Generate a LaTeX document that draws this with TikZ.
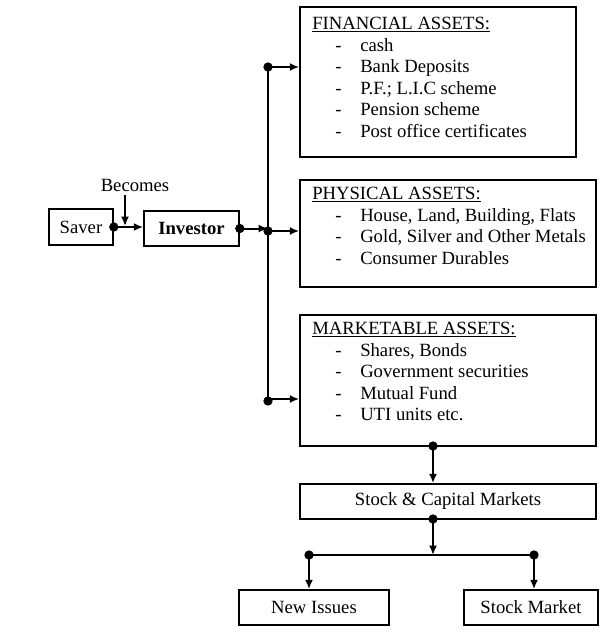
\documentclass[tikz,border=0pt]{standalone}
\usepackage{fontspec}
\setmainfont{Liberation Serif}
\usetikzlibrary{arrows.meta,calc}
\begin{document}
\begin{tikzpicture}[x=0.75pt,y=-0.75pt,
  box/.style={draw,line width=1.2pt,inner sep=0pt,font=\fontsize{14}{16}\selectfont},
  txt/.style={inner sep=0pt,anchor=base west,font=\fontsize{14}{16}\selectfont},
  conn/.style={line width=1.5pt,-{Latex[length=7pt,width=6pt]}},
  bar/.style={line width=1.5pt},
  dotf/.style={circle,fill,inner sep=0pt,minimum size=7pt}]
\useasboundingbox (0,0) rectangle (615,640);
% boxes
\node[box,minimum width=48pt,minimum height=27pt] (saver) at (81,227) {Saver};
\node[box,minimum width=71.25pt,minimum height=26.25pt,font=\fontsize{14}{16}\selectfont\bfseries] (inv) at (191.5,228.5) {Investor};
\node[txt,anchor=base] (becomes) at (135,191) {Becomes};
\node[box,minimum width=207pt,minimum height=112.5pt] (fin) at (438,82) {};
\node[box,minimum width=222pt,minimum height=80.25pt] (phy) at (448,233.5) {};
\node[box,minimum width=222pt,minimum height=98.25pt] (mkt) at (448,380.5) {};
\node[box,minimum width=222pt,minimum height=26.25pt] (sc) at (448,501.5) {Stock \& Capital Markets};
\node[box,minimum width=112.5pt,minimum height=26.25pt] (ni) at (314,607.5) {New Issues};
\node[box,minimum width=100.5pt,minimum height=26.25pt] (sm) at (531,607.5) {Stock Market};
% financial text
\node[txt] (fh) at (312,29.5) {\underline{FINANCIAL ASSETS:}};
\node[txt] (fd1) at (335,51) {-};   \node[txt] (f1) at (360,51) {cash};
\node[txt] (fd2) at (335,72.5) {-}; \node[txt] (f2) at (360,72.5) {Bank Deposits};
\node[txt] (fd3) at (335,94) {-};   \node[txt] (f3) at (360,94) {P.F.; L.I.C scheme};
\node[txt] (fd4) at (335,115.5) {-};\node[txt] (f4) at (360,115.5) {Pension scheme};
\node[txt] (fd5) at (335,137) {-};  \node[txt] (f5) at (360,137) {Post office certificates};
% physical text
\node[txt] (ph) at (312,199.5) {\underline{PHYSICAL ASSETS:}};
\node[txt] (pd1) at (335,221) {-};   \node[txt] (p1) at (360,221) {House, Land, Building, Flats};
\node[txt] (pd2) at (335,242.5) {-}; \node[txt] (p2) at (360,242.5) {Gold, Silver and Other Metals};
\node[txt] (pd3) at (335,264) {-};   \node[txt] (p3) at (360,264) {Consumer Durables};
% marketable text
\node[txt] (mh) at (312,334.5) {\underline{MARKETABLE ASSETS:}};
\node[txt] (md1) at (335,356) {-};   \node[txt] (m1) at (360,356) {Shares, Bonds};
\node[txt] (md2) at (335,377.5) {-}; \node[txt] (m2) at (360,377.5) {Government securities};
\node[txt] (md3) at (335,399) {-};   \node[txt] (m3) at (360,399) {Mutual Fund};
\node[txt] (md4) at (335,420.5) {-}; \node[txt] (m4) at (360,420.5) {UTI units etc.};
% coordinates
\coordinate (bt) at (125,195);
\coordinate (bb) at (125,226);
\coordinate (b1) at (268,67);
\coordinate (b2) at (268,231);
\coordinate (b3) at (268,401);
\coordinate (mk) at (433,446);
\coordinate (sck) at (433,519);
\coordinate (j) at (433,555);
\coordinate (jl) at (309,555);
\coordinate (jr) at (534,555);
% connectors
\draw[conn] (saver.east) -- (saver.east -| inv.west);
\node[dotf] (d0) at (saver.east) {};
\draw[conn] (bt) -- (bb);
\draw[conn] (inv.east) -- (inv.east -| b2);
\node[dotf] (d1) at (inv.east) {};
\draw[bar] (b1) -- (b3);
\node[dotf] (d2) at (b1) {};
\node[dotf] (d3) at (b2) {};
\node[dotf] (d4) at (b3) {};
\draw[conn] (b1) -- (b1 -| fin.west);
\draw[conn] (b2) -- (b2 -| phy.west);
\draw[conn] ($(b3)+(0,-2)$) -- ($(b3 -| mkt.west)+(0,-2)$);
\draw[conn] (mk) -- (mk |- sc.north);
\node[dotf] (d5) at (mk) {};
\draw[conn] (sck) -- (j);
\node[dotf] (d6) at (sck) {};
\draw[bar] (jl) -- (jr);
\node[dotf] (d7) at (jl) {};
\node[dotf] (d8) at (jr) {};
\draw[conn] (jl) -- (jl |- ni.north);
\draw[conn] (jr) -- (jr |- sm.north);
\end{tikzpicture}
\end{document}
